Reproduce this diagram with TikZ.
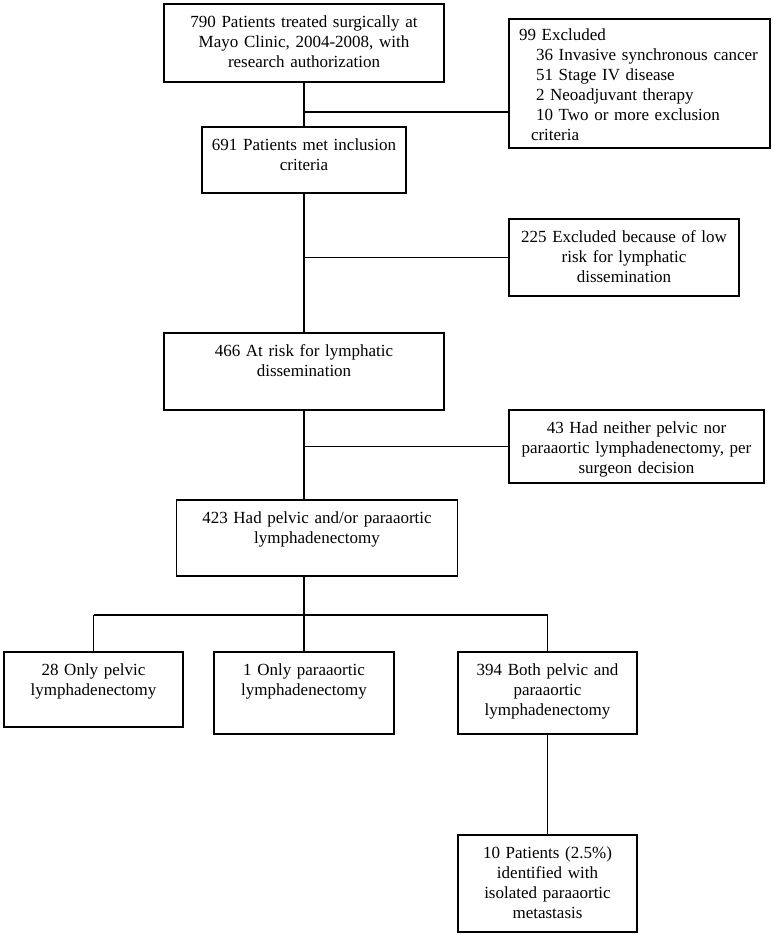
\documentclass[tikz,border=0pt]{standalone}
\usepackage{fontspec}
\setmainfont{Liberation Serif}
\usepackage{tikz}
\usetikzlibrary{positioning}

\begin{document}
\begin{tikzpicture}[
  x=1pt,y=1pt,
  font=\fontsize{17}{20}\selectfont,
  bx/.style={draw,line width=1.6pt,inner xsep=0pt,inner ysep=0pt,outer sep=0pt,
             align=center,text height=23pt},
  ln/.style={draw,line width=1.6pt}
]
\useasboundingbox (0,0) rectangle (775,-935);
% main column
\node[bx,text width=280pt,text depth=55pt] (n790) at (304,-43)
  {790 Patients treated surgically at\\Mayo Clinic, 2004-2008, with\\research authorization};
\node[bx,text width=204pt,text depth=43pt,below=45pt of n790]
  (n691) {691 Patients met inclusion\\criteria};
\node[bx,text width=280pt,text depth=54pt,below=140pt of n691]
  (n466) {466 At risk for lymphatic\\dissemination};
\node[bx,text width=281pt,text depth=53pt,below=90pt of n466,xshift=13pt]
  (n423) {423 Had pelvic and/or paraaortic\\lymphadenectomy};
% bottom row
\node[bx,text width=180pt,text depth=59pt,below=76pt of n423,xshift=-13pt]
  (n1) {1 Only paraaortic\\lymphadenectomy};
\node[bx,text width=179pt,text depth=52pt,left=31pt of n1.north west,anchor=north east]
  (n28) {28 Only pelvic\\lymphadenectomy};
\node[bx,text width=179pt,text depth=59pt,right=64pt of n1.north east,anchor=north west]
  (n394) {394 Both pelvic and\\paraaortic\\lymphadenectomy};
\node[bx,text width=179pt,text depth=74pt,below=101pt of n394]
  (n10) {10 Patients (2.5\%)\\identified with\\isolated paraaortic\\metastasis};
% exclusions
\node[bx,align=left,inner xsep=10pt,text width=241pt,text height=21pt,text depth=108pt,
      right=65pt of n790.north east,anchor=north west,yshift=-15pt] (ex99)
  {99 Excluded\\
   \hspace*{17pt}36 Invasive synchronous cancer\\
   \hspace*{17pt}51 Stage IV disease\\
   \hspace*{17pt}2 Neoadjuvant therapy\\
   \hspace*{17pt}10 Two or more exclusion\\
   \hspace*{12pt}criteria};
\node[bx,text width=230pt,text depth=54pt,below=71pt of ex99.south west,anchor=north west]
  (ex225) {225 Excluded because of low\\risk for lymphatic\\dissemination};
\node[bx,text width=255pt,text depth=50pt,below=114pt of ex225.south west,anchor=north west]
  (ex43) {43 Had neither pelvic nor\\paraaortic lymphadenectomy, per\\surgeon decision};
\coordinate[below=30pt of n790.south] (j1);
\coordinate[below=39pt of n423.south] (bus);
% connectors
\draw[ln] (n790) -- (n691);
\draw[ln] (j1) -- (j1 -| ex99.west);
\draw[ln] (n691) -- (n466);
\draw[ln] (n691.south |- ex225.west) -- (ex225.west);
\draw[ln] (n466.south) -- (n466.south |- n423.north);
\draw[ln] (n466.south |- ex43.west) -- (ex43.west);
\draw[ln] (n1.north |- n423.south) -- (n1.north);
\draw[ln] (n28.north |- bus) -- (n394.north |- bus);
\draw[ln] (n28.north |- bus) -- (n28.north);
\draw[ln] (n394.north |- bus) -- (n394.north);
\draw[ln] (n394) -- (n10);
\end{tikzpicture}
\end{document}
